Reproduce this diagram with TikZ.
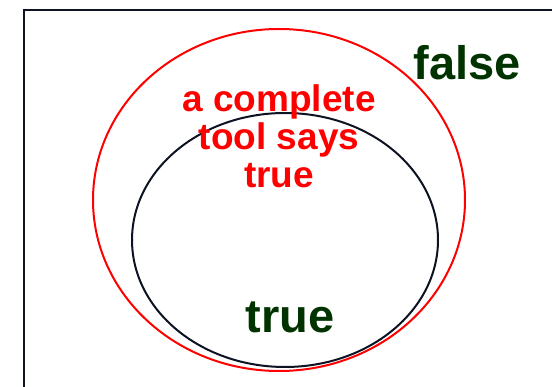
\documentclass[tikz,border=0pt]{standalone}
\usepackage{fontspec}
\setmainfont{Liberation Sans}
\usetikzlibrary{positioning}
\definecolor{framecol}{HTML}{0D1322}
\definecolor{darkgreen}{HTML}{003300}

\begin{document}
\begin{tikzpicture}[
  x=1pt, y=-1pt,
  setline/.style={line width=2pt},
  biglabel/.style={font=\bfseries\fontsize{47}{50}\selectfont, text=darkgreen, inner sep=0pt},
  redlabel/.style={font=\bfseries\fontsize{37}{38}\selectfont, text=red, align=center, inner sep=0pt},
]
\useasboundingbox (0,0) rectangle (552,387);

% ---------- FRAME ----------
\draw[setline, framecol] (23.5,10.5) rectangle (580,420);

% ---------- SETS ----------
\draw[setline, red] (279,200) ellipse [x radius=186, y radius=171];
\draw[setline, framecol] (285,240) ellipse [x radius=153, y radius=127];

% ---------- LABELS ----------
\node[biglabel, anchor=base] (false) at (467,80) {false};
\node[biglabel, anchor=base] (true) at (290,333) {true};
\node[redlabel, anchor=base] (complete) at (279,188)
  {a complete\\tool says\\true};

\end{tikzpicture}
\end{document}
